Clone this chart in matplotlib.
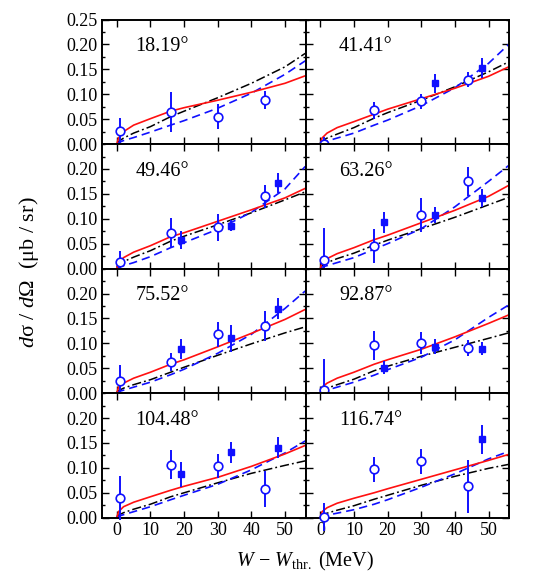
import numpy as np
import matplotlib.pyplot as plt
from matplotlib.ticker import MultipleLocator, FormatStrFormatter

plt.rcParams['font.family'] = ['Liberation Serif', 'DejaVu Serif']
plt.rcParams['mathtext.fontset'] = 'custom'
plt.rcParams['mathtext.rm'] = 'Liberation Serif'
plt.rcParams['mathtext.it'] = 'Liberation Serif:italic'

# ---------------- data ----------------
angles = ['18.19°', '41.41°', '49.46°', '63.26°', '75.52°', '92.87°', '104.48°', '116.74°']

# open circles
open_x = [1, 16, 30, 44]
open_y = [
    [0.026, 0.065, 0.055, 0.089],
    [0.000, 0.068, 0.086, 0.129],
    [0.013, 0.071, 0.083, 0.145],
    [0.017, 0.045, 0.107, 0.175],
    [0.025, 0.062, 0.118, 0.134],
    [0.006, 0.096, 0.101, 0.090],
    [0.039, 0.106, 0.103, 0.058],
    [0.002, 0.097, 0.113, 0.063],
]
open_err = [
    [0.027, 0.040, 0.025, 0.018],
    [0.015, 0.017, 0.015, 0.015],
    [0.022, 0.030, 0.027, 0.023],
    [0.064, 0.034, 0.034, 0.029],
    [0.032, 0.018, 0.025, 0.030],
    [0.062, 0.029, 0.022, 0.016],
    [0.044, 0.029, 0.024, 0.036],
    [0.028, 0.025, 0.025, 0.053],
]

# filled squares
sq_x = [[], [34, 48], [19, 34, 48], [19, 34, 48], [19, 34, 48], [19, 34, 48], [19, 34, 48], [48]]
sq_y = [
    [],
    [0.122, 0.153],
    [0.057, 0.086, 0.172],
    [0.093, 0.107, 0.142],
    [0.088, 0.110, 0.169],
    [0.051, 0.093, 0.089],
    [0.087, 0.131, 0.140],
    [0.157],
]
sq_err = [
    [],
    [0.019, 0.020],
    [0.018, 0.011, 0.020],
    [0.021, 0.016, 0.018],
    [0.020, 0.027, 0.021],
    [0.013, 0.015, 0.013],
    [0.025, 0.021, 0.021],
    [0.030],
]

# model curves
curve_x = [0, 0.5, 2, 5, 10, 16, 20, 30, 40, 50, 56]
red = [
    [0, 0.012, 0.025, 0.038, 0.051, 0.066, 0.073, 0.088, 0.104, 0.122, 0.137],
    [0, 0.012, 0.022, 0.033, 0.045, 0.060, 0.070, 0.091, 0.112, 0.136, 0.155],
    [0, 0.012, 0.022, 0.033, 0.046, 0.064, 0.072, 0.095, 0.118, 0.142, 0.161],
    [0, 0.012, 0.020, 0.030, 0.042, 0.058, 0.067, 0.092, 0.117, 0.145, 0.167],
    [0, 0.012, 0.020, 0.030, 0.042, 0.058, 0.067, 0.093, 0.120, 0.148, 0.168],
    [0, 0.012, 0.020, 0.030, 0.042, 0.058, 0.067, 0.088, 0.113, 0.140, 0.157],
    [0, 0.012, 0.022, 0.031, 0.042, 0.055, 0.063, 0.081, 0.103, 0.128, 0.145],
    [0, 0.012, 0.020, 0.029, 0.039, 0.050, 0.058, 0.077, 0.096, 0.115, 0.127],
]
black = [
    [0.000, 0.005, 0.012, 0.022, 0.035, 0.055, 0.066, 0.093, 0.122, 0.155, 0.182],
    [0.002, 0.006, 0.012, 0.020, 0.033, 0.052, 0.063, 0.088, 0.115, 0.145, 0.165],
    [0.003, 0.007, 0.014, 0.023, 0.036, 0.055, 0.065, 0.088, 0.112, 0.138, 0.154],
    [0.002, 0.006, 0.012, 0.020, 0.031, 0.047, 0.057, 0.080, 0.103, 0.128, 0.143],
    [0.002, 0.005, 0.010, 0.017, 0.027, 0.042, 0.052, 0.076, 0.099, 0.121, 0.133],
    [0.002, 0.005, 0.010, 0.017, 0.028, 0.045, 0.054, 0.074, 0.092, 0.110, 0.121],
    [0.002, 0.005, 0.010, 0.017, 0.027, 0.042, 0.050, 0.070, 0.089, 0.105, 0.114],
    [0.002, 0.005, 0.009, 0.015, 0.024, 0.037, 0.045, 0.065, 0.083, 0.099, 0.107],
]
blue = [
    [0, 0.003, 0.007, 0.013, 0.024, 0.038, 0.047, 0.072, 0.102, 0.140, 0.167],
    [0, 0.003, 0.006, 0.012, 0.022, 0.038, 0.048, 0.077, 0.113, 0.162, 0.200],
    [0, 0.003, 0.006, 0.012, 0.024, 0.042, 0.052, 0.079, 0.113, 0.160, 0.205],
    [0, 0.003, 0.006, 0.012, 0.022, 0.039, 0.050, 0.080, 0.124, 0.175, 0.207],
    [0, 0.003, 0.006, 0.012, 0.022, 0.037, 0.048, 0.080, 0.118, 0.170, 0.205],
    [0, 0.003, 0.006, 0.012, 0.022, 0.036, 0.047, 0.072, 0.107, 0.152, 0.177],
    [0, 0.003, 0.006, 0.012, 0.022, 0.036, 0.045, 0.067, 0.096, 0.130, 0.154],
    [0, 0.002, 0.005, 0.009, 0.016, 0.027, 0.036, 0.061, 0.088, 0.118, 0.133],
]

# ---------------- plot ----------------
fig, axes = plt.subplots(4, 2, figsize=(5.45, 5.81), dpi=100, sharex=True)
fig.subplots_adjust(left=0.1872, right=0.934, top=0.9664, bottom=0.1090,
                    hspace=0, wspace=0)

for i, ax in enumerate(axes.flat):
    ax.plot(curve_x, black[i], color='black', lw=1.1, ls=(0, (6, 2, 1.2, 2)), zorder=2)
    ax.plot(curve_x, blue[i], color='#1010ff', lw=1.2, ls=(0, (5, 3)), zorder=2)
    ax.plot(curve_x, red[i], color='#ff1010', lw=1.2, zorder=2)

    ax.errorbar(open_x, open_y[i], yerr=open_err[i], fmt='o', ms=6.2,
                mfc='white', mec='#1010ff', mew=1.2, ecolor='#1010ff',
                elinewidth=1.4, capsize=0, zorder=4, clip_on=False)
    if sq_x[i]:
        ax.errorbar(sq_x[i], sq_y[i], yerr=sq_err[i], fmt='s', ms=4.8,
                    color='#1010ff', elinewidth=1.4, capsize=0, zorder=4)

    ax.text(0.165, 0.78, angles[i], transform=ax.transAxes, fontsize=14.5,
            va='center', ha='left')

    ax.set_xlim(-4.4, 56.1)
    ax.xaxis.set_major_locator(MultipleLocator(10))
    if i == 0:
        ax.set_yticks([0, 0.05, 0.10, 0.15, 0.20, 0.25])
    else:
        ax.set_yticks([0, 0.05, 0.10, 0.15, 0.20])
    ax.yaxis.set_minor_locator(MultipleLocator(0.025))
    ax.yaxis.set_major_formatter(FormatStrFormatter('%.2f'))
    ax.set_ylim(0, 0.25)
    ax.tick_params(which='both', direction='in', top=True, right=True,
                   labelsize=13, width=1.0)
    ax.tick_params(which='major', length=5, pad=3)
    ax.tick_params(which='minor', length=2.5)
    for s in ax.spines.values():
        s.set_linewidth(1.4)

    if i % 2 == 1:
        ax.tick_params(labelleft=False)

fig.text(0.053, 0.531, '$d$σ / $d$Ω  (μb / sr)', rotation=90,
         ha='center', va='center', fontsize=16)
fig.text(0.56, 0.034, r'$W\,-\,W_{\mathrm{thr.}}$ (MeV)', ha='center', va='center',
         fontsize=14.5)

plt.savefig('out.png', dpi=100)
